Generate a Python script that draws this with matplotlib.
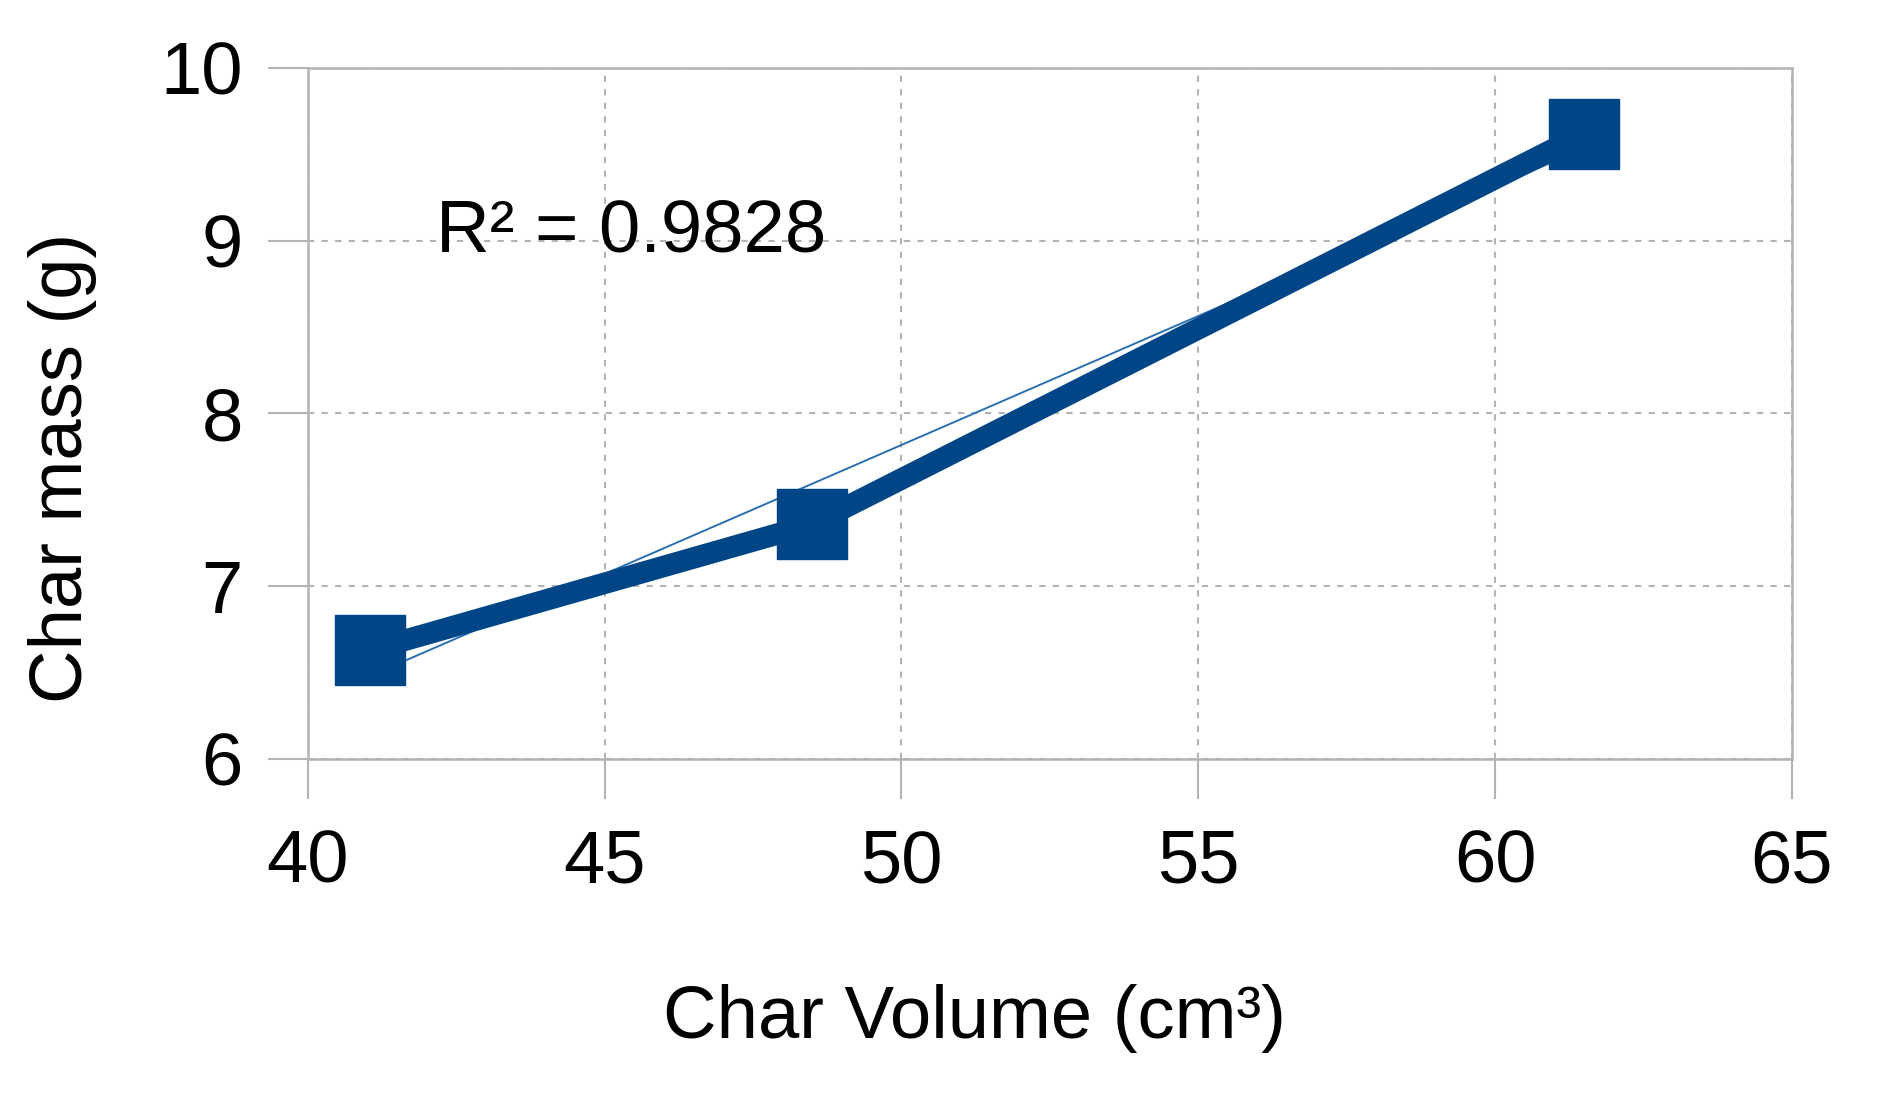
import matplotlib.pyplot as plt
import numpy as np

plt.rcParams['font.family'] = ['Liberation Sans', 'DejaVu Sans']

# char volume (cm3) vs char mass (g)
volume = [41.05, 48.5, 61.5]
mass = [6.63, 7.36, 9.62]
r2_label = "R² = 0.9828"

xticks = [40, 45, 50, 55, 60, 65]
yticks = [6, 7, 8, 9, 10]

grey = '#b3b3b3'
navy = '#004586'
fs = 53.5

fig = plt.figure(figsize=(18.81, 10.93), dpi=100)
ax = fig.add_axes([0.1637, 0.3056, 0.7889, 0.6322])

# linear trend line through the points
k, b = np.polyfit(volume, mass, 1)
xs = np.array([min(volume), max(volume)])
ax.plot(xs, k * xs + b, color='#2a6fb0', lw=1.4, zorder=3)

ax.plot(volume, mass, color=navy, lw=15.5, marker='s', ms=50,
        solid_joinstyle='miter', zorder=4, clip_on=False)

ax.set_xlim(40, 65)
ax.set_ylim(6, 10)
ax.set_xticks(xticks)
ax.set_yticks(yticks)

ax.grid(True, color=grey, lw=1.5, ls=(0, (3, 3.5)))
ax.set_axisbelow(True)
for s in ax.spines.values():
    s.set_color(grey)
    s.set_linewidth(1.8)

ax.tick_params(axis='both', direction='out', length=29, width=1.5, color=grey,
               labelsize=fs, labelcolor='black')
ax.tick_params(axis='x', pad=21)
ax.tick_params(axis='y', pad=18)

ax.text(42.16, 8.935, r2_label, fontsize=fs, ha='left', va='baseline')

fig.text(0.518, 0.0503, "Char Volume (cm³)", fontsize=fs, ha='center', va='baseline')
fig.text(0.033, 0.572, "Char mass (g)", fontsize=fs, rotation=90, ha='center', va='center')

fig.savefig('out.png', dpi=100)
